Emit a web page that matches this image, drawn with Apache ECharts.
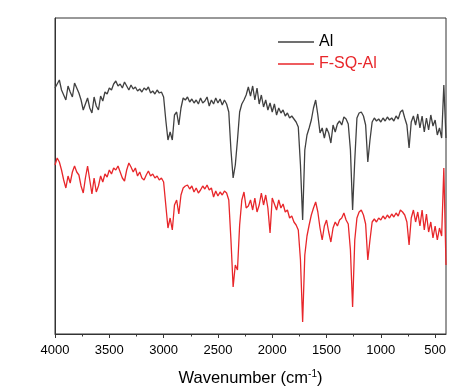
<!DOCTYPE html>
<html>
<head>
<meta charset="utf-8">
<script src="https://cdn.jsdelivr.net/npm/echarts@6/dist/echarts.min.js"></script>
<style>html,body{margin:0;padding:0;background:#fff;}#c{width:452px;height:386px;}</style>
</head>
<body>
<div id="c"></div>
<script>
// Wavenumber grid (cm-1), 4000 -> 400 in steps of 20
const wavenumbers = [];
for (let w = 4000; w >= 400; w -= 20) wavenumbers.push(w);

// Transmittance (arbitrary units)
const alValues = [
246,250,254,244,239,234,248,242,237,251,
246,241,234,224,230,236,226,221,237,228,
224,238,233,242,240,246,244,250,253,248,
250,246,252,248,244,249,245,247,243,245,
242,246,244,247,241,243,240,244,241,242,
237,214,194,202,194,219,222,209,226,236,
234,237,232,235,231,234,230,236,231,233,
237,228,234,230,236,231,235,229,234,230,
222,184,156,169,194,222,230,234,239,247,
238,248,234,246,230,239,227,234,224,231,
222,230,219,226,221,224,218,221,216,218,
215,212,207,169,114,184,199,206,214,226,
234,219,201,206,196,206,201,191,209,202,
210,213,209,217,215,210,184,124,174,216,
221,222,218,209,172,194,212,216,213,215,
212,216,213,217,214,216,213,218,215,222,
224,216,209,186,212,218,209,220,206,218,
202,216,204,219,208,214,199,206,196,249,
196
];

const fsqValues = [
169,176,172,164,154,146,158,151,162,168,
162,159,148,141,156,168,154,140,156,142,
148,158,152,160,157,164,160,166,164,168,
162,156,153,164,171,167,162,166,158,162,
156,154,159,163,158,160,156,158,154,156,
152,129,106,116,104,129,134,120,139,146,
148,149,145,148,142,146,141,144,148,145,
149,144,146,137,143,138,142,139,143,141,
134,94,47,69,64,109,134,142,126,128,
134,124,136,122,129,141,129,139,126,101,
136,130,124,134,126,130,122,124,116,118,
112,109,104,74,12,79,98,109,119,126,
132,122,106,94,108,114,102,92,106,112,
108,114,116,121,114,110,84,27,94,116,
122,124,119,110,74,94,112,115,112,116,
114,118,115,119,116,120,117,121,118,124,
122,119,112,89,116,124,112,122,108,124,
104,120,102,112,96,108,94,106,98,166,
69
];

const seriesNames = ['Al', 'F-SQ-Al'];
const majorTicks = [4000, 3500, 3000, 2500, 2000, 1500, 1000, 500];
const minorTicks = [3750, 3250, 2750, 2250, 1750, 1250, 750];

const FONT = "'Liberation Sans', Arial, sans-serif";
const chart = echarts.init(document.getElementById('c'), null, {renderer: 'canvas'});
chart.setOption({
  animation: false,
  backgroundColor: '#fff',
  grid: {left: 55, right: 6, top: 18, bottom: 52, outerBoundsMode: 'none', containLabel: false,
         show: true, borderColor: '#333', borderWidth: 1, backgroundColor: 'transparent'},
  legend: {
    orient: 'vertical', left: 273, top: 28, icon: 'rect', itemWidth: 36, itemHeight: 1.5, itemGap: 4,
    textStyle: {fontFamily: FONT, fontSize: 16, lineHeight: 18},
    data: [
      {name: seriesNames[0], textStyle: {color: '#000'}},
      {name: seriesNames[1], textStyle: {color: '#e8262a'}}
    ]
  },
  xAxis: [{
    type: 'value', inverse: true, min: 400, max: 4000,
    axisLine: {show: true, onZero: false, lineStyle: {color: '#333', width: 1}},
    axisTick: {show: true, inside: false, length: 4, customValues: majorTicks, lineStyle: {color: '#333'}},
    axisLabel: {customValues: majorTicks, formatter: v => String(v), color: '#000', fontFamily: FONT, fontSize: 13, margin: 10},
    splitLine: {show: false},
    name: '{a|Wavenumber (cm}{s|-1}{a|)}',
    nameLocation: 'middle', nameGap: 35,
    nameTextStyle: {rich: {
      a: {fontFamily: FONT, fontSize: 16.5, color: '#000'},
      s: {fontFamily: FONT, fontSize: 10, color: '#000', verticalAlign: 'top', padding: [0, 0, 8, 0]}
    }}
  }, {
    type: 'value', inverse: true, min: 400, max: 4000, position: 'bottom',
    axisLine: {show: false},
    axisTick: {show: true, inside: false, length: 2.5, customValues: minorTicks, lineStyle: {color: '#333'}},
    axisLabel: {show: false},
    splitLine: {show: false}
  }],
  yAxis: {
    type: 'value', min: 0, max: 316,
    axisLine: {show: true, lineStyle: {color: '#333', width: 1}},
    axisTick: {show: false}, axisLabel: {show: false}, splitLine: {show: false}
  },
  series: [
    {name: seriesNames[0], type: 'line', xAxisIndex: 0, symbol: 'none', color: '#404040',
     lineStyle: {width: 1.3, color: '#404040'},
     data: wavenumbers.map((w, i) => [w, alValues[i]])},
    {name: seriesNames[1], type: 'line', xAxisIndex: 0, symbol: 'none', color: '#e8262a',
     lineStyle: {width: 1.3, color: '#e8262a'},
     data: wavenumbers.map((w, i) => [w, fsqValues[i]])}
  ]
});
</script>
</body>
</html>
